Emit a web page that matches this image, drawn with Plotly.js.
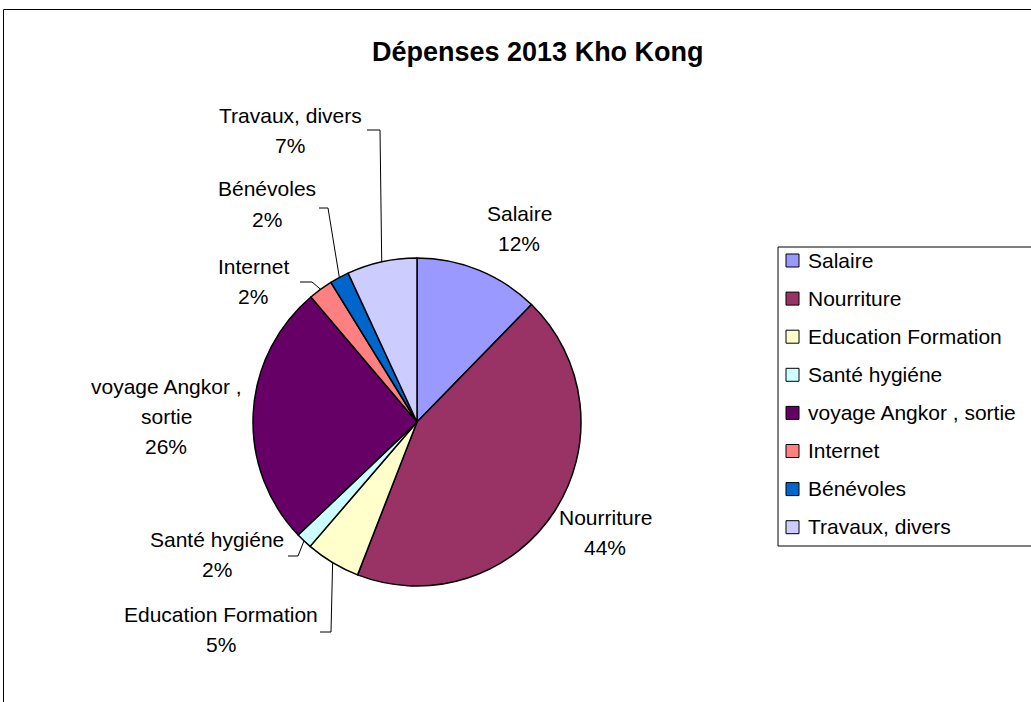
<!DOCTYPE html>
<html>
<head>
<meta charset="utf-8">
<script src="https://cdn.plot.ly/plotly-3.0.1.min.js"></script>
<style>html,body{margin:0;padding:0;background:#fff;}#chart{width:1031px;height:702px;}</style>
</head>
<body>
<div id="chart"></div>
<script>
// ---- data ----
const labels = ['Salaire','Nourriture','Education Formation','Santé hygiéne','voyage Angkor , sortie','Internet','Bénévoles','Travaux, divers'];
const values = [12.3, 43.6, 5.4, 1.6, 25.9, 2.4, 1.9, 6.9];
const colors = ['#9999FF','#993366','#FFFFCC','#CCFFFF','#660066','#FF8080','#0066CC','#CCCCFF'];
const wrappedLabels = ['Salaire','Nourriture','Education Formation','Santé hygiéne','voyage Angkor ,|sortie','Internet','Bénévoles','Travaux, divers'];
const titleText = 'Dépenses 2013 Kho Kong';

// ---- layout (pixels) ----
const W = 1031, H = 702;
const CX = 417, CY = 422, R = 164;
const FONT = 'Liberation Sans, Arial, sans-serif';
const labelPos = [[519,213],[605,517],[221,614],[217,539],[166,386],[253,266],[267,189],[290,115.5]];
const lineGap = 30;
const leaderStart = [null, null, [[320,632],[331,632]], [[288,556],[298,556]], null, [[300,282],[312,282]], [[319,208],[328,208]], [[367,130],[380,130]]];
const legendBox = {x0: 778, y0: 247, x1: 1040, y1: 546};
const legendFirstY = 260, legendStep = 38.1, legendSymX = 786, legendTextX = 806;

const px = x => x / W;
const py = y => 1 - y / H;

const total = values.reduce((a, b) => a + b, 0);
const annotations = [];
const shapes = [];

// frame
shapes.push({type:'rect', xref:'paper', yref:'paper', x0:px(3.5), y0:py(712), x1:px(1045), y1:py(9.5), line:{color:'#000', width:1}, fillcolor:'rgba(0,0,0,0)', layer:'below'});

// title
annotations.push({xref:'paper', yref:'paper', x:px(538), y:py(52), xanchor:'center', yanchor:'middle', showarrow:false,
  text:'<b>' + titleText + '</b>', font:{family:FONT, size:27, color:'#000'}});

// data labels and leader lines
let cum = 0;
values.forEach((v, i) => {
  const mid = (cum + v / 2) / total * 2 * Math.PI;
  cum += v;
  const pct = Math.round(v / total * 100) + '%';
  const lines = wrappedLabels[i].split('|').concat([pct]);
  lines.forEach((t, k) => {
    annotations.push({xref:'paper', yref:'paper', x:px(labelPos[i][0]), y:py(labelPos[i][1] + k * lineGap),
      xanchor:'center', yanchor:'middle', showarrow:false, text:t, font:{family:FONT, size:21, color:'#000'}});
  });
  if (leaderStart[i]) {
    const ex = CX + R * Math.sin(mid), ey = CY - R * Math.cos(mid);
    const p = leaderStart[i].concat([[ex, ey]]);
    const path = 'M ' + p.map(q => px(q[0]) + ',' + py(q[1])).join(' L ');
    shapes.push({type:'path', xref:'paper', yref:'paper', path:path, line:{color:'#000', width:1}});
  }
});

// legend
shapes.push({type:'rect', xref:'paper', yref:'paper', x0:px(legendBox.x0), y0:py(legendBox.y1), x1:px(legendBox.x1), y1:py(legendBox.y0),
  line:{color:'#000', width:1}, fillcolor:'#fff', layer:'below'});
labels.forEach((lab, i) => {
  const yc = legendFirstY + i * legendStep;
  shapes.push({type:'rect', xref:'paper', yref:'paper', x0:px(legendSymX), x1:px(legendSymX + 13), y0:py(yc + 7), y1:py(yc - 6),
    line:{color:'#000', width:1}, fillcolor:colors[i]});
  annotations.push({xref:'paper', yref:'paper', x:px(legendTextX), y:py(yc), xanchor:'left', yanchor:'middle', showarrow:false,
    text:lab, font:{family:FONT, size:21, color:'#000'}});
});

const trace = {
  type:'pie', labels:labels, values:values, sort:false, direction:'clockwise', rotation:0,
  marker:{colors:colors, line:{color:'#000', width:1.5}},
  textinfo:'none', hoverinfo:'none', showlegend:false,
  domain:{x:[px(CX - R), px(CX + R)], y:[py(CY + R), py(CY - R)]}
};

Plotly.newPlot('chart', [trace], {
  width:W, height:H, margin:{l:0, r:0, t:0, b:0},
  paper_bgcolor:'#fff', plot_bgcolor:'#fff', showlegend:false,
  annotations:annotations, shapes:shapes
}, {staticPlot:true});
</script>
</body>
</html>
